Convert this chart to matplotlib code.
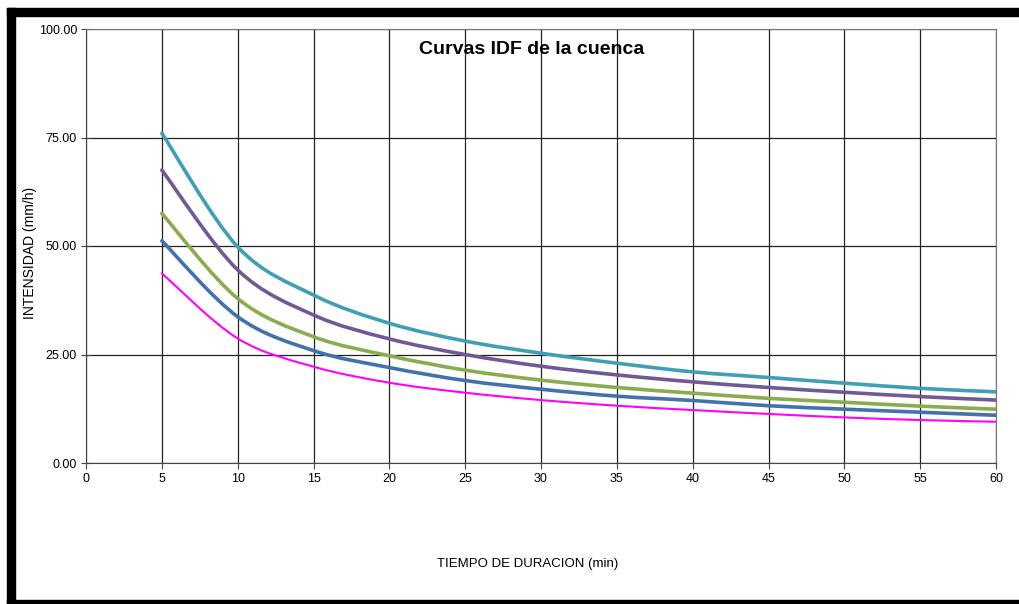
import numpy as np
import matplotlib.pyplot as plt
from matplotlib.path import Path
from matplotlib.patches import PathPatch, Rectangle

plt.rcParams['font.family'] = ['Liberation Sans', 'DejaVu Sans']

# duraciones (min) e intensidades (mm/h) por periodo de retorno
duracion = [5, 10, 15, 20, 25, 30, 35, 40, 45, 50, 55, 60]
serie_1 = [43.7, 28.7, 22.2, 18.5, 16.2, 14.5, 13.2, 12.2, 11.3, 10.5, 9.9, 9.5]
serie_2 = [51.2, 33.7, 25.9, 22.0, 19.0, 17.0, 15.4, 14.4, 13.2, 12.4, 11.7, 11.0]
serie_3 = [57.5, 37.9, 29.1, 24.7, 21.4, 19.1, 17.4, 16.1, 14.9, 14.0, 13.1, 12.4]
serie_4 = [67.5, 44.5, 34.1, 28.6, 25.0, 22.3, 20.3, 18.7, 17.4, 16.3, 15.3, 14.5]
serie_5 = [76.0, 49.8, 38.7, 32.2, 28.1, 25.3, 23.0, 21.0, 19.7, 18.4, 17.2, 16.4]

series = [
    (serie_1, '#ff00ff', 1.5),
    (serie_2, '#4272ab', 2.6),
    (serie_3, '#8aac4e', 2.6),
    (serie_4, '#6f5a95', 2.6),
    (serie_5, '#3f9fb5', 2.6),
]


# curva suavizada tipo Excel (Bezier con tangentes de Catmull-Rom)
def smooth_path(x, y):
    x = np.asarray(x, float)
    y = np.asarray(y, float)
    n = len(x)
    verts = [(x[0], y[0])]
    codes = [Path.MOVETO]
    for i in range(n - 1):
        i0 = max(i - 1, 0)
        i3 = min(i + 2, n - 1)
        c1 = (x[i] + (x[i + 1] - x[i0]) / 6, y[i] + (y[i + 1] - y[i0]) / 6)
        c2 = (x[i + 1] - (x[i3] - x[i]) / 6, y[i + 1] - (y[i3] - y[i]) / 6)
        verts += [c1, c2, (x[i + 1], y[i + 1])]
        codes += [Path.CURVE4] * 3
    return Path(verts, codes)


fig = plt.figure(figsize=(10.19, 6.04), dpi=100)
ax = fig.add_axes([86 / 1019, 1 - 463 / 604, 910 / 1019, 434 / 604])

for vals, col, lw in series:
    ax.add_patch(PathPatch(smooth_path(duracion, vals), facecolor='none',
                           edgecolor=col, lw=lw, capstyle='round', zorder=3))

ax.set_xlim(0, 60)
ax.set_ylim(0, 100)
ax.set_xticks(np.arange(0, 61, 5))
ax.set_yticks([0, 25, 50, 75, 100])
ax.set_yticklabels(['%.2f' % v for v in [0, 25, 50, 75, 100]])
ax.grid(True, color='#222222', lw=0.9)
for s in ['top', 'right']:
    ax.spines[s].set_color('#777777')
for s in ['left', 'bottom']:
    ax.spines[s].set_color('#444444')
ax.tick_params(axis='x', direction='out', length=4, color='#444444', labelsize=9, pad=3)
ax.tick_params(axis='y', direction='inout', length=7, color='#444444', labelsize=9, pad=3)

fig.text(30 / 1019, 1 - 253 / 604, 'INTENSIDAD (mm/h)', fontsize=10,
         rotation=90, ha='center', va='center')
fig.text(528 / 1019, 1 - 564 / 604, 'TIEMPO DE DURACION (min)', fontsize=9.5,
         ha='center', va='center')
fig.text(532 / 1019, 1 - 50 / 604, 'Curvas IDF de la cuenca', fontsize=14,
         fontweight='bold', ha='center', va='center')

# marco negro del grafico
W, H = 1019, 604
for (x0, y0, w, h) in [(7, 8, 8, 596), (7, 8, 1012, 8), (7, 600, 1012, 4)]:
    fig.patches.append(Rectangle((x0 / W, 1 - (y0 + h) / H), w / W, h / H,
                                 transform=fig.transFigure, color='black'))

fig.savefig('out.png', dpi=100)
